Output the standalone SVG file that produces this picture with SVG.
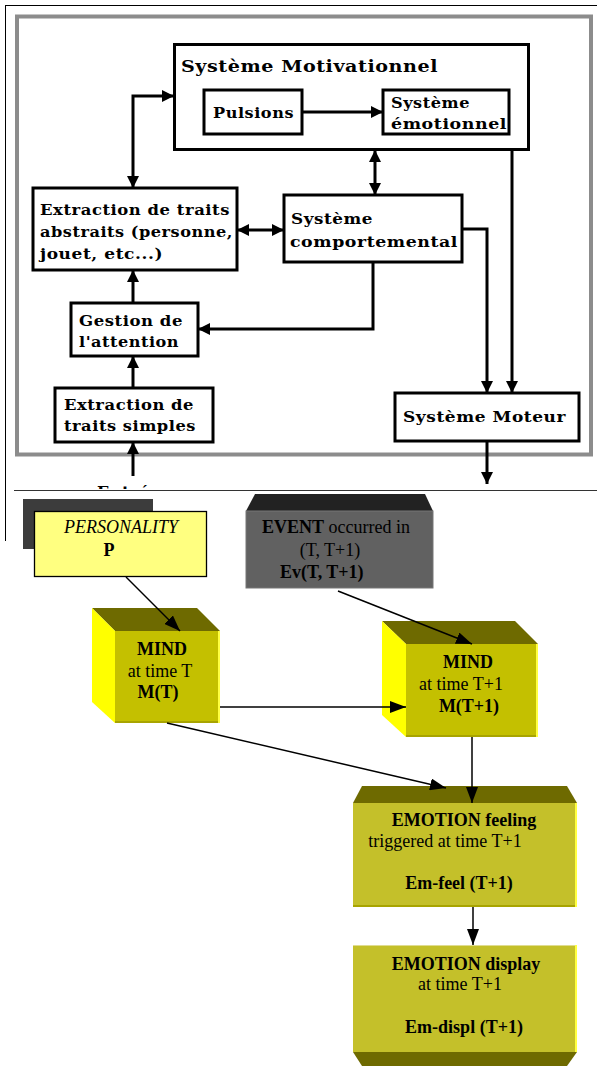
<svg xmlns="http://www.w3.org/2000/svg" width="597" height="1066" viewBox="0 0 597 1066">
  <style>
    .box { fill: #fff; stroke: #000; stroke-width: 3; }
    .lbl { font-family: "DejaVu Serif", "Liberation Serif", serif; font-weight: bold; font-size: 15px; fill: #000; letter-spacing: 0.5px; }
    .title { font-size: 17px; }
    .wire { fill: none; stroke: #000; stroke-width: 3; }
    .thin { fill: none; stroke: #000; stroke-width: 1.5; }
    .tx { font-family: "Liberation Serif", "Times New Roman", serif; font-size: 18px; fill: #000; text-anchor: middle; }
    .txl { font-family: "Liberation Serif", "Times New Roman", serif; font-size: 18px; fill: #000; text-anchor: start; }
    .b { font-weight: bold; }
    .it { font-style: italic; }
    .top { fill: #6e6a00; }
    .side { fill: #ffff00; }
    .front { fill: #c4c000; }
    .emo { fill: #c4c02a; }
    .hi { stroke: #ffff40; stroke-width: 2; fill: none; }
    .lo { stroke: #a8a400; stroke-width: 2; fill: none; }
  </style>
  <defs>
    <marker id="ah" viewBox="0 0 12 12" refX="12" refY="6" markerWidth="12" markerHeight="12" markerUnits="userSpaceOnUse" orient="auto-start-reverse">
      <path d="M0,0 L12,6 L0,12 z" fill="#000"/>
    </marker>
    <marker id="ah2" viewBox="0 0 16 12" refX="16" refY="6" markerWidth="16" markerHeight="12" markerUnits="userSpaceOnUse" orient="auto">
      <path d="M0,0 L16,6 L0,12 z" fill="#000"/>
    </marker>
    <clipPath id="clipTop">
      <rect x="0" y="0" width="597" height="489"/>
    </clipPath>
  </defs>

  <rect x="0" y="0" width="597" height="1066" fill="#fff"/>

  <!-- outer frame lines -->
  <g id="frame">
    <path d="M5,5.5 H597 M5.5,5 V541" stroke="#000" stroke-width="1" fill="none"/>
    <rect x="17" y="16.5" width="574" height="438" fill="#fff" stroke="#8c8c8c" stroke-width="4"/>
    <path d="M14,490.5 H597" stroke="#333" stroke-width="1" fill="none"/>
  </g>

  <!-- upper block diagram -->
  <g id="motivationnel">
    <rect class="box" x="174.5" y="44.5" width="354" height="105"/>
    <text class="lbl title" x="181" y="72" textLength="257" lengthAdjust="spacingAndGlyphs">Système Motivationnel</text>
  </g>
  <g id="pulsions">
    <rect class="box" x="204" y="90" width="98" height="44"/>
    <text class="lbl" x="213" y="118" textLength="81" lengthAdjust="spacingAndGlyphs">Pulsions</text>
  </g>
  <g id="emotionnel">
    <rect class="box" x="383" y="90" width="126" height="44"/>
    <text class="lbl" x="391" y="108" textLength="79" lengthAdjust="spacingAndGlyphs">Système</text>
    <text class="lbl" x="391" y="129" textLength="116" lengthAdjust="spacingAndGlyphs">émotionnel</text>
  </g>
  <g id="comportemental">
    <rect class="box" x="284" y="195" width="178" height="67"/>
    <text class="lbl" x="291" y="224" textLength="82" lengthAdjust="spacingAndGlyphs">Système</text>
    <text class="lbl" x="290" y="247" textLength="168" lengthAdjust="spacingAndGlyphs">comportemental</text>
  </g>
  <g id="traits-abstraits">
    <rect class="box" x="33" y="188" width="204" height="82"/>
    <text class="lbl" x="40" y="215" textLength="190" lengthAdjust="spacingAndGlyphs">Extraction de traits</text>
    <text class="lbl" x="40" y="237" textLength="193" lengthAdjust="spacingAndGlyphs">abstraits (personne,</text>
    <text class="lbl" x="40" y="259" textLength="123" lengthAdjust="spacingAndGlyphs">jouet, etc...)</text>
  </g>
  <g id="attention">
    <rect class="box" x="71" y="303" width="127" height="53"/>
    <text class="lbl" x="79" y="326" textLength="104" lengthAdjust="spacingAndGlyphs">Gestion de</text>
    <text class="lbl" x="79" y="347" textLength="100" lengthAdjust="spacingAndGlyphs">l'attention</text>
  </g>
  <g id="traits-simples">
    <rect class="box" x="55" y="388" width="158" height="54"/>
    <text class="lbl" x="64" y="410" textLength="130" lengthAdjust="spacingAndGlyphs">Extraction de</text>
    <text class="lbl" x="64" y="431" textLength="132" lengthAdjust="spacingAndGlyphs">traits simples</text>
  </g>
  <g id="moteur">
    <rect class="box" x="395" y="393" width="184" height="48"/>
    <text class="lbl" x="403" y="422" textLength="163" lengthAdjust="spacingAndGlyphs">Système Moteur</text>
  </g>
  <g id="entrees" clip-path="url(#clipTop)">
    <text class="lbl" x="97" y="497" textLength="73" lengthAdjust="spacingAndGlyphs">Entrées</text>
  </g>

  <g id="connectors-upper">
    <path class="wire" d="M302,112 H383" marker-end="url(#ah)"/>
    <path class="wire" d="M375,150 V195" marker-start="url(#ah)" marker-end="url(#ah)"/>
    <path class="wire" d="M237,230 H284" marker-start="url(#ah)" marker-end="url(#ah)"/>
    <path class="wire" d="M133,188 V96 H174" marker-start="url(#ah)" marker-end="url(#ah)"/>
    <path class="wire" d="M133,303 V270" marker-end="url(#ah)"/>
    <path class="wire" d="M133,388 V356" marker-end="url(#ah)"/>
    <path class="wire" d="M133,476 V442" marker-end="url(#ah)"/>
    <path class="wire" d="M373,262 V329 H198" marker-end="url(#ah)"/>
    <path class="wire" d="M462,229 H487 V393" marker-end="url(#ah)"/>
    <path class="wire" d="M512,150 V393" marker-end="url(#ah)"/>
    <path class="wire" d="M487,441 V484" marker-end="url(#ah)"/>
  </g>

  <!-- lower emotion model -->
  <g id="personality">
    <rect x="23" y="499" width="130" height="50" fill="#3c3c3c"/>
    <rect x="34.5" y="511.5" width="172" height="65" fill="#ffff80" stroke="#000" stroke-width="1.3"/>
    <text class="tx it" x="121" y="533">PERSONALITY</text>
    <text class="tx b" x="109" y="556">P</text>
  </g>
  <g id="event">
    <polygon points="255,494 425,494 433,511 246,511" fill="#222"/>
    <rect x="246" y="511" width="187" height="77" fill="#616161" stroke="#777" stroke-width="1"/>
    <text class="txl" x="262" y="533"><tspan class="b">EVENT</tspan> occurred in</text>
    <text class="tx" x="330" y="556">(T, T+1)</text>
    <text class="txl b" x="280" y="578">Ev(T, T+1)</text>
  </g>
  <g id="mind-t">
    <polygon class="top" points="92,608 197,608 220,631 115,631"/>
    <polygon class="side" points="92,608 115,631 115,723 92,702"/>
    <rect class="front" x="115" y="631" width="105" height="92"/>
    <path class="lo" d="M115,722 H219"/>
    <path class="hi" d="M219,631 V723"/>
    <text class="tx b" x="162" y="655">MIND</text>
    <text class="tx" x="160" y="677">at time T</text>
    <text class="tx b" x="158" y="698">M(T)</text>
  </g>
  <g id="mind-t1">
    <polygon class="top" points="382,621 515,621 538,644 406,644"/>
    <polygon class="side" points="382,621 406,644 406,737 382,715"/>
    <rect class="front" x="406" y="644" width="132" height="93"/>
    <path class="lo" d="M406,736 H537"/>
    <path class="hi" d="M537,644 V737"/>
    <text class="tx b" x="468" y="668">MIND</text>
    <text class="tx" x="461" y="690">at time T+1</text>
    <text class="tx b" x="469" y="712">M(T+1)</text>
  </g>
  <g id="emotion-feeling">
    <polygon class="top" points="362,786 567,786 577,803 353,803"/>
    <rect class="emo" x="353" y="803" width="224" height="104"/>
    <path class="lo" d="M353,906 H576"/>
    <path class="hi" d="M576,803 V907"/>
    <text class="tx b" x="464" y="826">EMOTION feeling</text>
    <text class="tx" x="445" y="847">triggered at time T+1</text>
    <text class="tx b" x="459" y="889">Em-feel (T+1)</text>
  </g>
  <g id="emotion-display">
    <rect class="emo" x="353" y="945" width="224" height="107"/>
    <path d="M353,945.5 H577" stroke="#e0dc90" stroke-width="1"/>
    <path class="hi" d="M576,945 V1052"/>
    <polygon class="top" points="353,1052 577,1052 567,1066 362,1066"/>
    <text class="tx b" x="466" y="970">EMOTION display</text>
    <text class="tx" x="460" y="990">at time T+1</text>
    <text class="tx b" x="464" y="1033">Em-displ (T+1)</text>
  </g>

  <g id="connectors-lower">
    <path class="thin" d="M126,577 L180,631" marker-end="url(#ah2)"/>
    <path class="thin" d="M220,707 H406" marker-end="url(#ah2)"/>
    <path class="thin" d="M167,723 L446,788" marker-end="url(#ah2)"/>
    <path class="thin" d="M338,591 L472,644" marker-end="url(#ah2)"/>
    <path class="thin" d="M472,737 V803" marker-end="url(#ah2)"/>
    <path class="thin" d="M473,907 V945" marker-end="url(#ah2)"/>
  </g>
</svg>
